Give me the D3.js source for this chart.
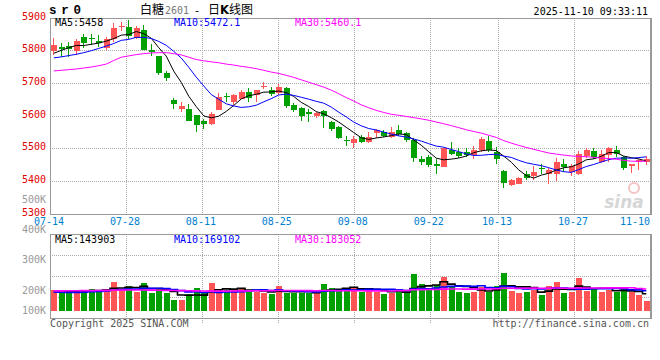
<!DOCTYPE html>
<html><head><meta charset="utf-8">
<script src="https://cdn.jsdelivr.net/npm/d3@7"></script>
<style>body{margin:0;background:#fff}svg{display:block}</style>
</head><body><svg id="c" width="660" height="360"></svg>
<script>
// ---------- DATA ----------
const dates = ["07-14","07-15","07-16","07-17","07-18","07-21","07-22","07-23","07-24","07-25",
"07-28","07-29","07-30","07-31","08-01","08-04","08-05","08-06","08-07","08-08",
"08-11","08-12","08-13","08-14","08-15","08-18","08-19","08-20","08-21","08-22",
"08-25","08-26","08-27","08-28","08-29","09-01","09-02","09-03","09-04","09-05",
"09-08","09-09","09-10","09-11","09-12","09-15","09-16","09-17","09-18","09-19",
"09-22","09-23","09-24","09-25","09-26","09-29","09-30","10-09","10-10","10-13",
"10-14","10-15","10-16","10-17","10-20","10-21","10-22","10-23","10-24","10-27",
"10-28","10-29","10-30","10-31","11-03","11-04","11-05","11-06","11-07","11-10"];
const openP = [5798,5810,5813,5798,5841,5837,5830,5806,5835,5871,5871,5839,5861,5802,5784,5730,5648,5622,5621,5602,
5584,5576,5616,5659,5641,5651,5674,5663,5688,5678,5671,5686,5633,5623,5612,5598,5614,5581,5565,5525,
5517,5535,5518,5547,5549,5535,5556,5547,5527,5468,5474,5453,5443,5494,5488,5488,5480,5496,5523,5490,
5431,5388,5392,5423,5415,5441,5423,5423,5453,5427,5423,5476,5492,5459,5480,5496,5474,5445,5457,5459];
const highP = [5839,5824,5826,5835,5849,5849,5847,5842,5883,5888,5893,5874,5877,5821,5784,5737,5653,5641,5636,5602,
5590,5610,5670,5671,5666,5680,5686,5680,5702,5688,5696,5688,5639,5627,5621,5612,5617,5584,5567,5537,
5537,5541,5549,5559,5555,5565,5572,5551,5531,5478,5480,5468,5502,5521,5502,5502,5506,5535,5539,5504,
5433,5406,5412,5431,5447,5451,5441,5470,5466,5453,5492,5502,5500,5494,5504,5508,5476,5453,5466,5476];
const lowP = [5785,5781,5781,5786,5808,5816,5811,5802,5826,5859,5835,5835,5802,5784,5724,5706,5621,5612,5584,5551,
5559,5572,5616,5643,5633,5651,5641,5641,5682,5661,5663,5623,5610,5584,5582,5592,5563,5553,5529,5508,
5502,5515,5516,5531,5535,5531,5539,5521,5459,5449,5443,5423,5443,5480,5472,5474,5468,5488,5490,5451,
5380,5386,5390,5404,5404,5423,5392,5400,5429,5415,5419,5472,5468,5455,5459,5474,5433,5425,5435,5449];
const closeP = [5816,5804,5804,5828,5822,5835,5822,5834,5867,5875,5845,5867,5802,5796,5731,5716,5636,5631,5584,5572,
5574,5606,5657,5657,5663,5674,5655,5678,5690,5667,5688,5631,5618,5600,5604,5609,5598,5559,5533,5523,
5529,5518,5534,5555,5539,5549,5543,5525,5472,5459,5449,5445,5500,5482,5476,5480,5496,5529,5494,5468,
5394,5404,5410,5408,5429,5439,5433,5459,5443,5445,5482,5496,5474,5482,5502,5482,5441,5451,5463,5468];
const volume = [175000,155600,155900,169500,169200,183000,169800,183300,241700,183000,
208000,161200,233000,152800,180600,152500,91700,91900,139000,191700,
147000,233200,175000,174800,180600,180300,161000,161300,152800,141700,
208000,152600,152900,152800,152500,152800,225000,191700,183000,191700,
200000,161000,191700,161200,141700,152800,183000,147000,308000,225000,
183000,219500,283000,208000,161000,152800,161000,197000,161200,208000,
316700,166700,152800,161000,175000,133000,208000,241700,150000,161000,
275000,166700,183000,161000,175000,161000,180600,161000,137000,82000];
// moving-average values before the visible window
const ma5Head = [5791,5800,5808,5815];
const ma10Head = [5777,5780,5784,5788,5793,5799,5806,5813,5821];
const ma30Head = [5737,5739,5741,5743,5746,5749,5753,5758,5769,5779,5783,5787,5790,5792,5793,5793,5790,5786,5779,5772,5768,5765,5762,5758,5755,5751,5748,5744,5739];
const vma5Head = [160000,158000,160000,163000];
const vma10Head = [158000,156000,155000,155000,156000,160000,163000,168000,173000];
const vma30Head = [168000,168000,169000,169000,170000,170000,171000,172000,173000,174000,175000,175000,175000,174000,173000,172000,171000,170000,169000,168000,167000,166000,166000,166000,167000,168000,168000,169000,169000];
const priceTicks = [5300,5400,5500,5600,5700,5800,5900];
const volTicks = [100000,200000,300000,400000,500000];
const volTickLabels = ["100K","200K","300K","400K","500K"];
const dateTicks = ["07-14","07-28","08-11","08-25","09-08","09-22","10-13","10-27","11-10"];
const legendPrice = ["MA5:5458","MA10:5472.1","MA30:5460.1"];
const legendVol = ["MA5:143903","MA10:169102","MA30:183052"];

// ---------- CHART ----------
const svg = d3.select('#c');
const mono = "'DejaVu Sans Mono', monospace";
const RED = "#ff5555", GREEN = "#00a000";
const L = 50, R = 650, pTop = 17.7, pBot = 213.7, vTop = 234.3, vBot = 318.3, vBase = 311;

const xb = d3.scaleBand().domain(dates).range([L, R]);
const cx = d => xb(d) + xb.bandwidth() / 2;
const xg = d3.scalePoint().domain(dates).range([L, R]);
const yP = d3.scaleLinear().domain([5300, 5900]).range([pBot, pTop]);
const yV = d3.scaleLinear().domain([0, 640000]).range([vBase, vBase - 76.8]);
const yVL = d3.scaleLinear().domain([0, 500000]).range([350.5, 199.5]);

function ma(arr, n, head) {
  return arr.map((_, i) => i < n - 1 ? head[i] : d3.mean(arr.slice(i - n + 1, i + 1)));
}
const data = dates.map((d, i) => ({d, o: openP[i], h: highP[i], l: lowP[i], c: closeP[i], v: volume[i], up: closeP[i] >= openP[i]}));

// grid
const grid = svg.append('g').attr('stroke', '#aaa').attr('stroke-dasharray', '1,1').attr('shape-rendering', 'crispEdges');
grid.selectAll('.hp').data(priceTicks.slice(1, -1)).join('line')
  .attr('x1', L).attr('x2', R).attr('y1', d => Math.round(yP(d)) + 0.5).attr('y2', d => Math.round(yP(d)) + 0.5);
const vg = [1, 2, 3].map(k => vTop + (vBot - vTop) * k / 4);
grid.selectAll('.hv').data(vg).join('line')
  .attr('x1', L).attr('x2', R).attr('y1', d => Math.round(d) + 0.5).attr('y2', d => Math.round(d) + 0.5);
const vx = dateTicks.slice(1, -1);
grid.selectAll('.vx1').data(vx).join('line')
  .attr('x1', d => Math.round(xg(d)) + 0.5).attr('x2', d => Math.round(xg(d)) + 0.5).attr('y1', pTop).attr('y2', pBot);
grid.selectAll('.vx2').data(vx).join('line')
  .attr('x1', d => Math.round(xg(d)) + 0.5).attr('x2', d => Math.round(xg(d)) + 0.5).attr('y1', vTop).attr('y2', 323);

// borders
const bd = svg.append('g').attr('fill', 'none').attr('stroke', '#999').attr('shape-rendering', 'crispEdges');
bd.append('rect').attr('x', L + 0.5).attr('y', Math.round(pTop) + 0.5).attr('width', R - L).attr('height', Math.round(pBot) - Math.round(pTop));
bd.append('rect').attr('x', L + 0.5).attr('y', Math.round(vTop) + 0.5).attr('width', R - L).attr('height', Math.round(vBot) - Math.round(vTop));
bd.append('line').attr('x1', R + 1.5).attr('x2', R + 1.5).attr('y1', Math.round(pTop)).attr('y2', Math.round(pBot) + 1);
bd.append('line').attr('x1', R + 1.5).attr('x2', R + 1.5).attr('y1', Math.round(vTop)).attr('y2', Math.round(vBot) + 1);

// watermark
const wm = svg.append('g');
wm.append('text').attr('x', 624).attr('y', 208).attr('text-anchor', 'middle')
  .attr('font-family', "'DejaVu Sans', sans-serif").attr('font-size', 17).attr('font-weight', 'bold').attr('font-style', 'italic')
  .attr('fill', '#d6d6d6').text('sina');
wm.append('circle').attr('cx', 634).attr('cy', 188).attr('r', 5).attr('fill', 'none').attr('stroke', '#f3c4c4').attr('stroke-width', 2);

// candles
const cg = svg.append('g').attr('shape-rendering', 'crispEdges');
cg.selectAll('.w').data(data).join('line')
  .attr('x1', d => Math.floor(cx(d.d)) + 0.5).attr('x2', d => Math.floor(cx(d.d)) + 0.5)
  .attr('y1', d => yP(d.h)).attr('y2', d => yP(d.l))
  .attr('stroke', d => d.up ? RED : GREEN);
cg.selectAll('.b').data(data).join('rect')
  .attr('x', d => Math.floor(cx(d.d)) - 2).attr('width', 6)
  .attr('y', d => yP(Math.max(d.o, d.c)))
  .attr('height', d => Math.max(1, Math.abs(yP(d.o) - yP(d.c))))
  .attr('fill', d => d.up ? RED : GREEN);

// price MA lines
const lineP = d3.line().x((v, i) => cx(dates[i])).y(v => yP(v));
[[ma(closeP, 5, ma5Head), '#000'], [ma(closeP, 10, ma10Head), '#0000ff'], [ma(closeP, 30, ma30Head), '#ff00ff']]
  .forEach(([s, col]) => svg.append('path').attr('d', lineP(s)).attr('fill', 'none').attr('stroke', col).attr('stroke-width', 1));

// volume bars
const vb = svg.append('g').attr('shape-rendering', 'crispEdges');
vb.selectAll('rect').data(data).join('rect')
  .attr('x', d => Math.floor(cx(d.d)) - 2).attr('width', 6)
  .attr('y', d => yV(d.v)).attr('height', d => yV(0) - yV(d.v))
  .attr('fill', d => d.up ? RED : GREEN);
const lineV = d3.line().x((v, i) => cx(dates[i])).y(v => yV(v)).curve(d3.curveStep);
[[ma(volume, 5, vma5Head), '#000'], [ma(volume, 10, vma10Head), '#0000ff'], [ma(volume, 30, vma30Head), '#ff00ff']]
  .forEach(([s, col]) => svg.append('path').attr('d', lineV(s)).attr('fill', 'none').attr('stroke', col).attr('stroke-width', 1.6));

// axis labels
const txt = (g) => g.attr('font-family', mono).attr('font-size', 10);
txt(svg.append('g')).attr('fill', '#e00000').attr('text-anchor', 'end')
  .selectAll('text').data(priceTicks).join('text')
  .attr('x', 46).attr('y', d => yP(d) + 2).text(d => d);
txt(svg.append('g')).attr('fill', '#999').attr('text-anchor', 'end')
  .selectAll('text').data(volTicks).join('text')
  .attr('x', 46).attr('y', d => Math.min(yVL(d), 310.7) + 3.5).text((d, i) => volTickLabels[i]);
txt(svg.append('g')).attr('fill', '#0080d0')
  .selectAll('text').data(dateTicks).join('text')
  .attr('text-anchor', (d, i) => i === dateTicks.length - 1 ? 'end' : 'middle')
  .attr('x', (d, i) => i === dateTicks.length - 1 ? R : xg(d) - 1).attr('y', 225).text(d => d);

// legends
const legX = [55, 174, 295], legC = ['#000', '#0000ff', '#ff00ff'];
txt(svg.append('g')).selectAll('text').data(legendPrice).join('text')
  .attr('x', (d, i) => legX[i]).attr('y', 26).attr('fill', (d, i) => legC[i]).text(d => d);
txt(svg.append('g')).selectAll('text').data(legendVol).join('text')
  .attr('x', (d, i) => legX[i]).attr('y', 242.5).attr('fill', (d, i) => legC[i]).text(d => d);

// title
const cjk = "'Noto Sans CJK SC', sans-serif";
svg.append('text').attr('x', 49).attr('y', 14).attr('font-family', "'Liberation Mono', monospace").attr('font-weight', 'bold')
  .attr('font-size', 12.5).attr('letter-spacing', 4.8).attr('fill', '#000').text('sr0');
svg.append('text').attr('x', 140).attr('y', 13.5).attr('font-family', cjk).attr('font-size', 12).attr('fill', '#000').text('白糖');
svg.append('text').attr('x', 165).attr('y', 13.5).attr('font-family', mono).attr('font-size', 10).attr('fill', '#777').text('2601');
svg.append('text').attr('x', 197).attr('y', 13.5).attr('font-family', mono).attr('font-size', 11).attr('text-anchor', 'middle').attr('fill', '#000').text('-');
svg.append('text').attr('x', 208).attr('y', 13.5).attr('font-family', cjk).attr('font-size', 12).attr('fill', '#000')
  .call(t => { t.append('tspan').text('日'); t.append('tspan').attr('font-weight', 'bold').attr('font-family', "'DejaVu Sans', sans-serif").attr('font-size', 11.5).text('K'); t.append('tspan').text('线图'); });
txt(svg.append('text')).attr('x', 648).attr('y', 14.5).attr('text-anchor', 'end').attr('fill', '#000').text('2025-11-10 09:33:11');

// footer
txt(svg.append('text')).attr('x', 50).attr('y', 327).attr('fill', '#555').text('Copyright 2025 SINA.COM');
txt(svg.append('text')).attr('x', 649).attr('y', 327).attr('text-anchor', 'end').attr('fill', '#555').text('http://finance.sina.com.cn');
</script></body></html>
